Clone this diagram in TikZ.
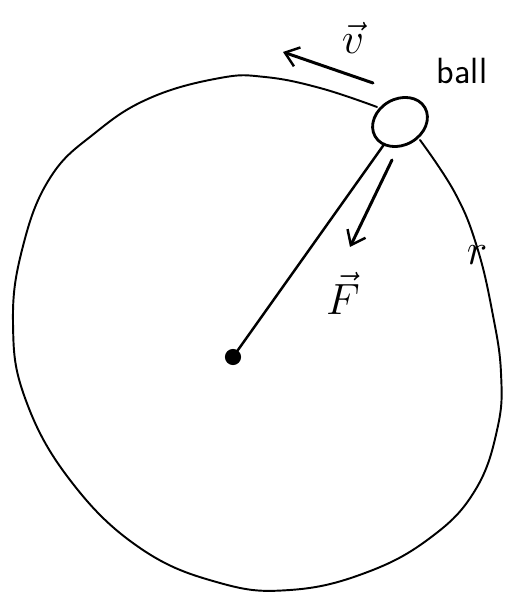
\documentclass[tikz,border=0pt]{standalone}
\usepackage{amsmath,amssymb}
\usepackage{tikz}
\usetikzlibrary{arrows.meta,positioning,shapes.geometric}
\tikzset{
  orbit/.style={draw=black, line width=1.1pt, line cap=round, line join=round},
  rod/.style={draw=black, line width=1.4pt, line cap=round},
  vec/.style={-{Straight Barb[length=2.6mm, width=4mm, line width=1.4pt]}, draw=black, line width=1.7pt, line cap=round},
  ballshape/.style={ellipse, draw=black, line width=1.6pt, minimum width=1.15cm, minimum height=0.92cm, rotate=30, inner sep=0pt},
  hubdot/.style={circle, draw=black, fill=black, line width=1.2pt, minimum size=0.28cm, inner sep=0pt},
  hand/.style={font=\sffamily\huge, text=black, inner sep=0pt},
  sym/.style={font=\fontsize{30}{30}\selectfont, text=black, inner sep=0pt}
}

\begin{document}
\begin{tikzpicture}
\useasboundingbox (0,0) rectangle (10.3,12.06);

% ball and centre
\node[ballshape] (ball) at (8.0,9.62) {};
\node[hubdot] (hub) at (4.66,4.92) {};

% path of the ball
\draw[orbit] plot[smooth, tension=0.7] coordinates {
  (7.54,9.92) (6.40,10.30) (5.30,10.52) (4.40,10.50)
  (3.00,10.10) (1.90,9.40) (1.00,8.50) (0.45,7.10)
  (0.26,5.60) (0.50,4.10) (1.40,2.46) (2.80,1.10)
  (4.40,0.40) (5.80,0.26) (7.30,0.60) (8.60,1.30) (9.50,2.25)
  (9.95,3.50) (10.02,4.60) (9.85,5.80)
  (9.54,7.12) (9.10,8.20) (8.40,9.26)};

% string
\draw[rod] (hub) -- (ball);

% velocity and force
\coordinate (vtail) at (7.46,10.40);
\coordinate (vtip) at (5.66,11.02);
\draw[vec] (vtail) -- (vtip);
\coordinate (ftail) at (7.84,8.86);
\coordinate (ftip) at (7.00,7.12);
\draw[vec] (ftail) -- (ftip);

% labels
\node[sym] (lv) at (7.06,11.30) {$\vec{v}$};
\node[sym] (lf) at (6.86,6.20) {$\vec{F}$};
\node[hand] (lball) at (9.24,10.64) {ball};
\node[sym] (lr) at (9.54,6.96) {$r$};

\end{tikzpicture}
\end{document}
